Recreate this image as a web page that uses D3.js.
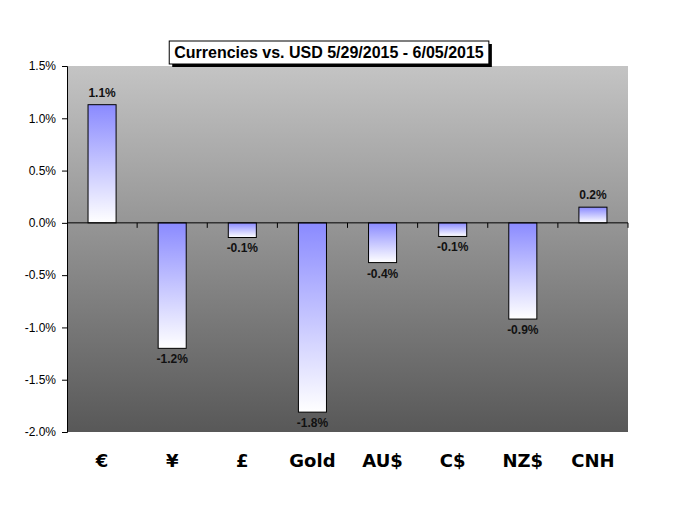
<!DOCTYPE html>
<html><head><meta charset="utf-8">
<script src="https://cdn.jsdelivr.net/npm/d3@7/dist/d3.min.js"></script>
<style>body{margin:0;background:#fff}</style>
</head><body>
<svg id="c" width="680" height="524"></svg>
<script>
const categories = ["€", "¥", "£", "Gold", "AU$", "C$", "NZ$", "CNH"];
const values = [1.13, -1.2, -0.14, -1.81, -0.38, -0.13, -0.92, 0.15];
const labels = ["1.1%", "-1.2%", "-0.1%", "-1.8%", "-0.4%", "-0.1%", "-0.9%", "0.2%"];
const yTicks = [1.5, 1.0, 0.5, 0.0, -0.5, -1.0, -1.5, -2.0];
const title = "Currencies vs. USD 5/29/2015 - 6/05/2015";

const svg = d3.select("#c");
const L = 67, R = 628, T = 66, B = 432;
const x = d3.scaleBand().domain(categories).range([L, R]).paddingInner(0.6).paddingOuter(0.3);
const xb = d3.scaleBand().domain(categories).range([L, R]);
const y = d3.scaleLinear().domain([-2, 1.5]).range([B, T]);

const defs = svg.append("defs");
const bg = defs.append("linearGradient").attr("id", "bg").attr("x1", 0).attr("y1", 0).attr("x2", 0).attr("y2", 1);
bg.append("stop").attr("offset", "0%").attr("stop-color", "#c4c4c4");
bg.append("stop").attr("offset", "100%").attr("stop-color", "#585858");
const bar = defs.append("linearGradient").attr("id", "bar").attr("x1", 0).attr("y1", 0).attr("x2", 0).attr("y2", 1);
bar.append("stop").attr("offset", "0%").attr("stop-color", "#8a8aff");
bar.append("stop").attr("offset", "100%").attr("stop-color", "#ffffff");

svg.append("rect").attr("x", L).attr("y", T).attr("width", R - L).attr("height", B - T).attr("fill", "url(#bg)");

// y axis
const ya = svg.append("g").attr("transform", `translate(${L},0)`)
  .call(d3.axisLeft(y).tickValues(yTicks).tickSize(5).tickPadding(6).tickFormat(d => d.toFixed(1) + "%"));
ya.select(".domain").attr("stroke", "#000");
ya.selectAll("text").attr("font-family", "Arial, 'Liberation Sans', sans-serif").attr("font-size", 12).attr("fill", "#000");

// bars
svg.selectAll("rect.bar").data(values).enter().append("rect").attr("class", "bar")
  .attr("x", (d, i) => x(categories[i]))
  .attr("width", x.bandwidth())
  .attr("y", d => y(Math.max(0, d)))
  .attr("height", d => Math.abs(y(d) - y(0)))
  .attr("fill", "url(#bar)").attr("stroke", "#000").attr("stroke-width", 1);

// zero line with ticks
svg.append("line").attr("x1", L).attr("x2", R).attr("y1", y(0)).attr("y2", y(0)).attr("stroke", "#000");
svg.selectAll("line.ct").data(categories.slice(1)).enter().append("line").attr("class", "ct")
  .attr("x1", d => xb(d)).attr("x2", d => xb(d)).attr("y1", y(0)).attr("y2", y(0) + 5).attr("stroke", "#000");
svg.append("line").attr("x1", R).attr("x2", R).attr("y1", y(0)).attr("y2", y(0) + 5).attr("stroke", "#000");

// data labels
svg.selectAll("text.dl").data(values).enter().append("text").attr("class", "dl")
  .attr("x", (d, i) => x(categories[i]) + x.bandwidth() / 2)
  .attr("y", d => d >= 0 ? y(d) - 8 : y(d) + 15)
  .attr("text-anchor", "middle")
  .attr("font-family", "Arial, 'Liberation Sans', sans-serif").attr("font-size", 12).attr("font-weight", "bold")
  .attr("fill", "#111")
  .text((d, i) => labels[i]);

// category labels
svg.selectAll("text.cat").data(categories).enter().append("text").attr("class", "cat")
  .attr("x", d => xb(d) + xb.bandwidth() / 2)
  .attr("y", 467)
  .attr("text-anchor", "middle")
  .attr("font-family", "'DejaVu Sans', Verdana, sans-serif").attr("font-size", 18).attr("font-weight", "bold")
  .attr("fill", "#000")
  .text(d => d);

// title
const tx = 329, ty = 58;
const tg = svg.append("g");
const tt = tg.append("text").attr("x", tx).attr("y", ty).attr("text-anchor", "middle")
  .attr("font-family", "Arial, 'Liberation Sans', sans-serif").attr("font-size", 16).attr("font-weight", "bold")
  .attr("fill", "#000").text(title);
const bb = tt.node().getBBox();
tg.insert("rect", "text").attr("x", bb.x - 5 + 3).attr("y", bb.y - 3 + 3).attr("width", bb.width + 10).attr("height", bb.height + 6).attr("fill", "#000");
tg.insert("rect", "text").attr("x", bb.x - 5).attr("y", bb.y - 3).attr("width", bb.width + 10).attr("height", bb.height + 6).attr("fill", "#fff").attr("stroke", "#000");
</script>
</body></html>
